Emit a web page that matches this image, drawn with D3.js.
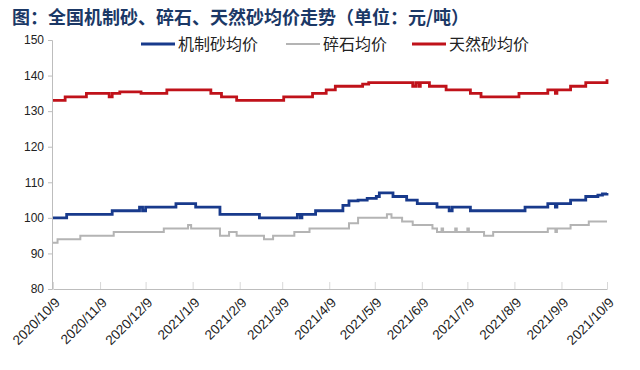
<!DOCTYPE html>
<html>
<head>
<meta charset="utf-8">
<script src="https://cdn.jsdelivr.net/npm/d3@7"></script>
<style>
  body { margin: 0; background: #fff; }
  #chart { width: 640px; height: 370px; }
</style>
</head>
<body>
<div id="chart"></div>
<script>
// change points (date where the price moves, new price)
const mDates = ["2020-10-09","2020-10-18","2020-11-17","2020-12-05","2020-12-07","2020-12-09","2020-12-29","2021-01-11","2021-01-27","2021-02-22","2021-03-19","2021-03-21","2021-03-22","2021-03-31","2021-04-14","2021-04-18","2021-04-22","2021-04-28","2021-05-04","2021-05-10","2021-05-12","2021-05-21","2021-05-30","2021-06-06","2021-06-19","2021-06-27","2021-06-29","2021-07-11","2021-08-16","2021-08-31","2021-09-05","2021-09-06","2021-09-15","2021-09-25","2021-10-03","2021-10-06","2021-10-09"];
const mVals  = [100,101,102,103,102,103,104,103,101,100,101,100,101,102,102,103.5,104.8,105,105.5,106,107,106,105,104,103,102,103,102,103,104,103,104,105,106,106.4,106.7,107];

const gDates = ["2020-10-09","2020-10-12","2020-10-27","2020-11-18","2020-12-21","2021-01-06","2021-01-08","2021-01-27","2021-02-02","2021-02-07","2021-02-25","2021-03-03","2021-03-17","2021-03-27","2021-04-16","2021-04-22","2021-04-28","2021-05-17","2021-05-20","2021-05-27","2021-06-03","2021-06-16","2021-06-19","2021-06-22","2021-06-23","2021-07-01","2021-07-02","2021-07-09","2021-07-10","2021-07-20","2021-07-26","2021-08-31","2021-09-05","2021-09-06","2021-09-15","2021-09-27","2021-10-09"];
const gVals  = [93,94,95,96,97,98,97,95,96,95,94,95,96,97,97,98.5,100,101,100,99,98,97,96,97,96,97,96,97,96,95,96,97,96,97,98,99,99];

const nDates = ["2020-10-09","2020-10-17","2020-10-31","2020-11-15","2020-11-17","2020-11-22","2020-12-06","2020-12-23","2021-01-21","2021-01-28","2021-02-07","2021-03-10","2021-03-29","2021-04-07","2021-04-13","2021-04-27","2021-05-01","2021-05-05","2021-06-03","2021-06-05","2021-06-07","2021-06-08","2021-06-14","2021-06-25","2021-07-11","2021-07-18","2021-08-12","2021-08-31","2021-09-05","2021-09-06","2021-09-15","2021-09-25","2021-10-08","2021-10-09"];
const nVals  = [133,134,135,134,135,135.4,135,136,135,134,133,134,135,136,137,137,137.6,138,137,138,137,138,137,136,135,134,135,136,135,136,137,138,138,139];

const seriesNames = ["机制砂均价", "碎石均价", "天然砂均价"];
const seriesColors = ["#183a8c", "#b4b4b4", "#c0121a"];
const yTicks = [80, 90, 100, 110, 120, 130, 140, 150];
const xTickDates = ["2020-10-09","2020-11-09","2020-12-09","2021-01-09","2021-02-09","2021-03-09","2021-04-09","2021-05-09","2021-06-09","2021-07-09","2021-08-09","2021-09-09","2021-10-09"];

const parse = d3.timeParse("%Y-%m-%d");
const toPoints = (ds, vs) => ds.map((d, i) => ({date: parse(d), value: vs[i]}));
const series = [toPoints(mDates, mVals), toPoints(gDates, gVals), toPoints(nDates, nVals)];

const width = 640, height = 370;
const svg = d3.select("#chart").append("svg")
    .attr("width", width)
    .attr("height", height)
    .style("font-family", "'Liberation Sans', Arial, sans-serif");

const x = d3.scaleTime()
    .domain([parse("2020-10-09"), parse("2021-10-09")])
    .range([53, 607]);
const y = d3.scaleLinear()
    .domain([80, 150])
    .range([289, 40]);

// title
svg.append("text")
    .attr("x", 12)
    .attr("y", 24)
    .attr("fill", "#1b3866")
    .style("font-family", "'Noto Sans CJK SC', sans-serif")
    .style("font-weight", "bold")
    .style("font-size", "18px")
    .text("图：全国机制砂、碎石、天然砂均价走势（单位：元/吨）");

// y axis
const yAxis = svg.append("g")
    .attr("transform", "translate(52,0)")
    .call(d3.axisLeft(y).tickValues(yTicks).tickSize(4).tickFormat(d3.format("d")));
yAxis.selectAll("path, line").attr("stroke", "#bdbdbd");
yAxis.selectAll("text").attr("fill", "#222").style("font-size", "12px").attr("x", -8);

// x axis, ticks point up into the plot
const xAxis = svg.append("g")
    .attr("transform", "translate(0,289)")
    .call(d3.axisBottom(x).tickValues(xTickDates.map(parse)).tickSizeInner(-7).tickSizeOuter(0)
        .tickFormat(d3.timeFormat("%Y/%-m/%-d")));
xAxis.select(".domain").attr("stroke", "#bdbdbd");
xAxis.selectAll("line").attr("stroke", "#d8d8d8");
xAxis.selectAll("text")
    .attr("fill", "#222")
    .style("font-size", "13.5px")
    .attr("text-anchor", "end")
    .attr("x", 4)
    .attr("y", 11)
    .attr("dy", "0.35em")
    .attr("transform", "rotate(-45, 4, 11)");

// lines
const line = d3.line()
    .x(d => x(d.date))
    .y(d => y(d.value))
    .curve(d3.curveStepAfter);

svg.selectAll(".price-line")
    .data(series)
    .enter()
    .append("path")
    .attr("class", "price-line")
    .attr("fill", "none")
    .attr("stroke", (d, i) => seriesColors[i])
    .attr("stroke-width", (d, i) => i === 1 ? 2 : 2.8)
    .attr("d", line);

// legend
const legendX = [141, 286, 412];
const legend = svg.selectAll(".legend")
    .data(seriesNames)
    .enter()
    .append("g")
    .attr("class", "legend")
    .attr("transform", (d, i) => `translate(${legendX[i]},44)`);
legend.append("line")
    .attr("x1", 0).attr("x2", 34)
    .attr("stroke", (d, i) => seriesColors[i])
    .attr("stroke-width", (d, i) => i === 1 ? 2 : 2.8);
legend.append("text")
    .attr("x", 37)
    .attr("dy", "0.36em")
    .attr("fill", "#222")
    .style("font-family", "'Noto Sans CJK SC', sans-serif")
    .style("font-size", "16px")
    .text(d => d);
</script>
</body>
</html>
